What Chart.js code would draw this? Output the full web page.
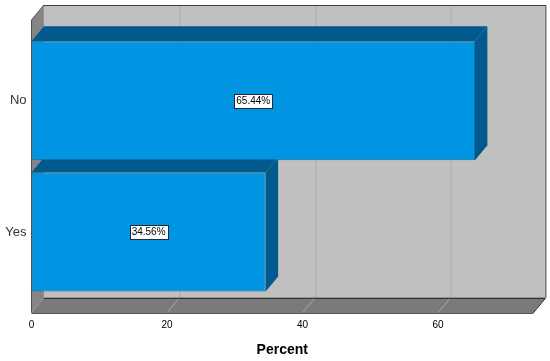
<!DOCTYPE html>
<html>
<head>
<meta charset="utf-8">
<script src="https://cdn.jsdelivr.net/npm/chart.js@4.4.1/dist/chart.umd.min.js"></script>
<style>
  html, body { margin: 0; padding: 0; background: #fff; }
  #wrap { width: 550px; height: 361px; }
</style>
</head>
<body>
<div id="wrap"><canvas id="chart"></canvas></div>
<script>
// data
const categories = ['No', 'Yes'];
const percentValues = [65.44, 34.56];
const axisMax = 74;
const tickStep = 20;

// 3d look of the SPSS box
const depthX = 12.4;
const depthY = -15;
const wallExtra = 15;

function line(ctx, pts, color) {
  ctx.beginPath();
  ctx.moveTo(pts[0][0], pts[0][1]);
  for (let i = 1; i < pts.length; i++) ctx.lineTo(pts[i][0], pts[i][1]);
  ctx.strokeStyle = color;
  ctx.lineWidth = 1;
  ctx.stroke();
}

function poly(ctx, pts, fill) {
  ctx.beginPath();
  ctx.moveTo(pts[0][0], pts[0][1]);
  for (let i = 1; i < pts.length; i++) ctx.lineTo(pts[i][0], pts[i][1]);
  ctx.closePath();
  ctx.fillStyle = fill;
  ctx.fill();
}

// walls, floor and the top / side faces of the bars
const box3d = {
  id: 'box3d',
  beforeDatasetsDraw(chart) {
    const ctx = chart.ctx;
    const a = chart.chartArea;
    const x = chart.scales.x;
    const L = a.left, R = a.right;
    const fTop = a.top - wallExtra, fBot = a.bottom + wallExtra;
    const dx = depthX, dy = depthY;
    ctx.save();

    // back wall
    ctx.fillStyle = '#c0c0c0';
    ctx.fillRect(L + dx, fTop + dy, R - L, fBot - fTop);
    x.ticks.forEach(t => {
      if (t.value === 0) return;
      const px = Math.round(x.getPixelForValue(t.value)) + 0.5;
      line(ctx, [[px + dx, fTop + dy], [px + dx, fBot + dy]], '#acacac');
    });
    line(ctx, [[L + dx, fTop + dy + 0.5], [R + dx + 0.5, fTop + dy + 0.5], [R + dx + 0.5, fBot + dy]], '#3c3c3c');

    // left wall
    poly(ctx, [[L, fTop], [L + dx, fTop + dy], [L + dx, fBot + dy], [L, fBot]], '#858585');
    line(ctx, [[L, fBot], [L, fTop], [L + dx, fTop + dy]], '#505050');

    // floor
    poly(ctx, [[L, fBot], [L + dx, fBot + dy], [R + dx, fBot + dy], [R, fBot]], '#7a7a7a');
    x.ticks.forEach(t => {
      if (t.value === 0) return;
      const px = x.getPixelForValue(t.value);
      line(ctx, [[px, fBot], [px + dx, fBot + dy]], '#a8a8a8');
    });
    line(ctx, [[L, fBot + 0.5], [R, fBot + 0.5], [R + dx, fBot + dy + 0.5], [L + dx, fBot + dy + 0.5]], '#1e1e1e');

    // bar depth faces
    const meta = chart.getDatasetMeta(0);
    meta.data.forEach(bar => {
      const p = bar.getProps(['x', 'y', 'base', 'height'], true);
      const top = p.y - p.height / 2, bot = p.y + p.height / 2;
      poly(ctx, [[p.base, top], [p.base + dx, top + dy], [p.x + dx, top + dy], [p.x, top]], '#005a8e');
      poly(ctx, [[p.x, top], [p.x + dx, top + dy], [p.x + dx, bot + dy], [p.x, bot]], '#005a8e');
    });
    ctx.restore();
  },
  afterDatasetsDraw(chart) {
    const ctx = chart.ctx;
    const meta = chart.getDatasetMeta(0);
    ctx.save();
    ctx.font = '10px "Liberation Sans", Arial, sans-serif';
    ctx.textAlign = 'center';
    ctx.textBaseline = 'middle';
    meta.data.forEach((bar, i) => {
      const p = bar.getProps(['x', 'y', 'base'], true);
      const txt = percentValues[i].toFixed(2) + '%';
      const cx = (p.base + p.x) / 2;
      const w = Math.ceil(ctx.measureText(txt).width) + 4;
      const h = 14;
      const bx = Math.round(cx - w / 2) + 0.5, by = Math.round(p.y - h / 2) + 0.5;
      ctx.fillStyle = '#ffffff';
      ctx.fillRect(bx, by, w, h);
      ctx.strokeStyle = '#1a2a3a';
      ctx.lineWidth = 1;
      ctx.strokeRect(bx, by, w, h);
      ctx.fillStyle = '#000';
      ctx.fillText(txt, cx, p.y + 0.5);
    });
    ctx.restore();
  }
};

const ctx = document.getElementById('chart').getContext('2d');
const chart = new Chart(ctx, {
  type: 'bar',
  data: {
    labels: categories,
    datasets: [{
      data: percentValues,
      backgroundColor: '#0095e2',
      borderColor: '#1b6a9c',
      borderWidth: 1,
      borderSkipped: false,
      categoryPercentage: 1,
      barPercentage: 0.905
    }]
  },
  plugins: [box3d],
  options: {
    indexAxis: 'y',
    responsive: true,
    maintainAspectRatio: false,
    animation: false,
    layout: { padding: { top: 35, right: 17, left: 0, bottom: 0 } },
    plugins: {
      legend: { display: false },
      tooltip: { enabled: false }
    },
    scales: {
      x: {
        min: 0,
        max: axisMax,
        bounds: 'data',
        grid: { display: false, drawTicks: false },
        border: { display: false },
        ticks: {
          stepSize: tickStep,
          padding: 21,
          color: '#000',
          font: { family: '"Liberation Sans", Arial, sans-serif', size: 10 }
        },
        afterBuildTicks(scale) {
          scale.ticks = scale.ticks.filter(t => t.value % tickStep === 0);
        },
        title: {
          display: true,
          text: 'Percent',
          color: '#000',
          font: { family: '"Liberation Sans", Arial, sans-serif', size: 14, weight: 'bold' },
          padding: { top: 4, bottom: 2 }
        },
        afterFit(scale) { scale.height = 63.25; }
      },
      y: {
        grid: { display: false, drawTicks: false },
        border: { display: false },
        ticks: {
          padding: 5,
          color: '#333',
          font: { family: '"Liberation Sans", Arial, sans-serif', size: 13 }
        },
        afterFit(scale) { scale.width = 31.5; }
      }
    }
  }
});
</script>
</body>
</html>
